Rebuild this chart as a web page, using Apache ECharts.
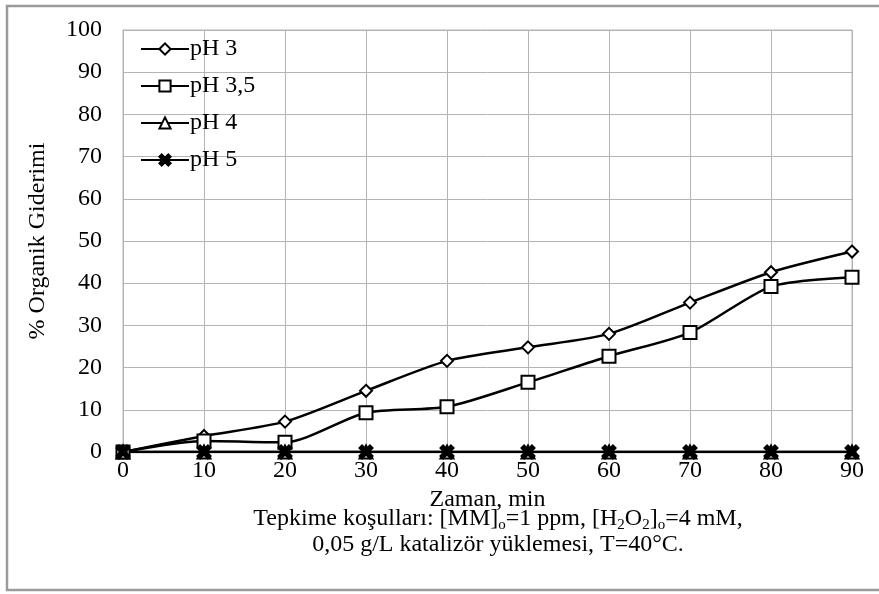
<!DOCTYPE html>
<html>
<head>
<meta charset="utf-8">
<script src="https://cdn.jsdelivr.net/npm/echarts@6/dist/echarts.min.js"></script>
<style>
  html, body { margin: 0; padding: 0; background: #fff; }
  #chart { width: 879px; height: 594px; }
</style>
</head>
<body>
<div id="chart"></div>
<script>
// zaman (dk)
const times = [0, 10, 20, 30, 40, 50, 60, 70, 80, 90]
// % organik giderimi
const ph3 = [0, 3.8, 7.2, 14.5, 21.6, 24.8, 28.0, 35.4, 42.6, 47.5]
const ph35 = [0, 2.6, 2.3, 9.3, 10.7, 16.5, 22.7, 28.3, 39.2, 41.4]
const ph4 = [0, 0, 0, 0, 0, 0, 0, 0, 0, 0]
const ph5 = [0, 0, 0, 0, 0, 0, 0, 0, 0, 0]
const seriesNames = ['pH 3', 'pH 3,5', 'pH 4', 'pH 5']

const FONT = '"Liberation Serif", "Times New Roman", serif'
const FS = 24
const crossPath = 'path://M2,0L5,3L8,0L10,2L7,5L10,8L8,10L5,7L2,10L0,8L3,5L0,2Z'

function pairs(vals) {
  return times.map(function (t, i) { return [t, vals[i]] })
}

function lineSeries(name, vals, symbol, size, fill) {
  return {
    name: name,
    type: 'line',
    data: pairs(vals),
    smooth: 0.25,
    symbol: symbol,
    symbolSize: size,
    showSymbol: true,
    lineStyle: { color: '#000', width: 2.5 },
    itemStyle: { color: fill, borderColor: '#000', borderWidth: 2 },
    emphasis: { disabled: true }
  }
}

const chart = echarts.init(document.getElementById('chart'))
chart.setOption({
  animation: false,
  textStyle: { fontFamily: FONT },
  grid: { left: 123, right: 27, top: 30, bottom: 142, show: true, borderColor: '#b4b4b4', borderWidth: 1 },
  legend: {
    data: seriesNames,
    orient: 'vertical',
    left: 135, top: 32,
    itemWidth: 48, itemHeight: 14, itemGap: 13,
    textStyle: { fontFamily: FONT, fontSize: FS, color: '#000', padding: [0, 0, 0, -4] }
  },
  xAxis: {
    type: 'value', min: 0, max: 90, interval: 10,
    name: 'Zaman, min', nameLocation: 'middle', nameGap: 27,
    nameTextStyle: { fontFamily: FONT, fontSize: FS, color: '#000' },
    axisLine: { lineStyle: { color: '#b4b4b4' } },
    axisTick: { show: false },
    axisLabel: { fontFamily: FONT, fontSize: FS, color: '#000', margin: 7 },
    splitLine: { show: true, lineStyle: { color: '#b4b4b4', width: 1 } }
  },
  yAxis: {
    type: 'value', min: 0, max: 100, interval: 10,
    name: '% Organik Giderimi', nameLocation: 'middle', nameGap: 73,
    nameTextStyle: { fontFamily: FONT, fontSize: FS, color: '#000' },
    axisLine: { show: true, lineStyle: { color: '#b4b4b4' } },
    axisTick: { show: false },
    axisLabel: { fontFamily: FONT, fontSize: FS, color: '#000', margin: 21 },
    splitLine: { show: true, lineStyle: { color: '#b4b4b4', width: 1 } }
  },
  graphic: [
    {
      type: 'rect', silent: true,
      shape: { x: 7, y: 6, width: 880, height: 584 },
      style: { fill: 'none', stroke: '#9a9a9a', lineWidth: 2.5 }
    },
    {
      type: 'text', x: 498, y: 519,
      style: {
        text: '{a|Tepkime koşulları: [MM]}{s|o}{a|=1 ppm, [H}{s|2}{a|O}{s|2}{a|]}{s|o}{a|=4 mM,}',
        align: 'center', verticalAlign: 'middle',
        rich: {
          a: { fontFamily: FONT, fontSize: FS, color: '#000', lineHeight: 27 },
          s: { fontFamily: FONT, fontSize: 15, color: '#000', lineHeight: 12, verticalAlign: 'bottom' }
        }
      }
    },
    {
      type: 'text', x: 498, y: 545,
      style: {
        text: '0,05 g/L katalizör yüklemesi, T=40°C.',
        align: 'center', verticalAlign: 'middle',
        font: FS + 'px ' + FONT, fill: '#000'
      }
    }
  ],
  series: [
    lineSeries('pH 3', ph3, 'diamond', 12, '#fff'),
    lineSeries('pH 3,5', ph35, 'rect', 13, '#fff'),
    lineSeries('pH 4', ph4, 'triangle', 13, '#fff'),
    lineSeries('pH 5', ph5, crossPath, 13, '#000')
  ]
})
</script>
</body>
</html>
